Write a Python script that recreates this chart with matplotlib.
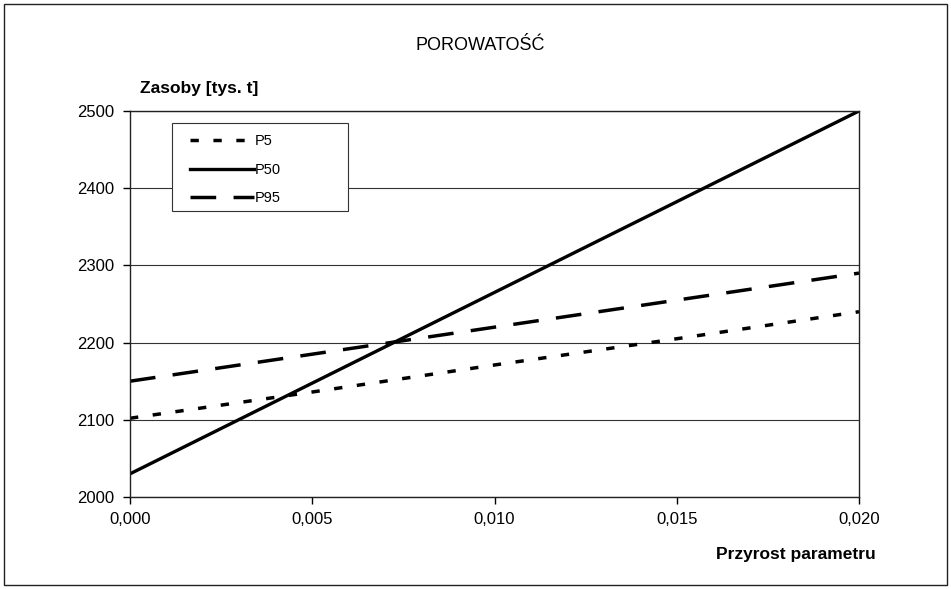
import matplotlib
matplotlib.use("Agg")
import matplotlib.pyplot as plt
from matplotlib.patches import Rectangle
from matplotlib.ticker import FuncFormatter

przyrost = [0.0, 0.005, 0.010, 0.015, 0.020]
p5 = [2102, 2136, 2171, 2205, 2240]
p50 = [2030, 2147.5, 2265, 2382.5, 2500]
p95 = [2150, 2185, 2220, 2255, 2290]

plt.rcParams["font.family"] = ["Liberation Sans", "DejaVu Sans"]

fig = plt.figure(figsize=(9.51, 5.89), dpi=100)
ax = fig.add_axes([130 / 951, 1 - 497 / 589, 729 / 951, 386 / 589])

# ramka wokol calego wykresu
fig.patches.append(Rectangle((4 / 951, 4 / 589), 943 / 951, 581 / 589,
                             transform=fig.transFigure, fill=False,
                             edgecolor="#222222", linewidth=1.0))

ax.plot(przyrost, p5, color="k", linestyle=(0, (2.4, 4.2)), linewidth=2.5,
        label="P5")
ax.plot(przyrost, p50, color="k", linestyle="solid", linewidth=2.4,
        label="P50")
ax.plot(przyrost, p95, color="k", linestyle=(0, (7.4, 5.0)), linewidth=2.5,
        label="P95")

ax.set_xlim(0, 0.02)
ax.set_ylim(2000, 2500)
ax.set_xticks(przyrost)
ax.set_yticks([2000, 2100, 2200, 2300, 2400, 2500])
ax.xaxis.set_major_formatter(FuncFormatter(lambda v, p: f"{v:.3f}".replace(".", ",")))
ax.tick_params(labelsize=12, length=5, width=1, direction="out", pad=6)
ax.grid(axis="y", color="#333333", linewidth=0.8)
for s in ax.spines.values():
    s.set_linewidth(1.0)
    s.set_color("#222222")

fig.text(480 / 951, 1 - 45 / 589, "POROWATOŚĆ", ha="center", va="center",
         fontsize=13)
fig.text(140 / 951, 1 - 88 / 589, "Zasoby [tys. t]", ha="left", va="center",
         fontsize=12.5, fontweight="bold")
fig.text(876 / 951, 1 - 555 / 589, "Przyrost parametru", ha="right",
         va="center", fontsize=12.5, fontweight="bold")

# ramka legendy rysowana osobno (szersza niz wpisy)
ax.add_patch(Rectangle((0.0576, 0.741), 0.2414, 0.228, transform=ax.transAxes,
                       facecolor="white", edgecolor="#333333", linewidth=0.8,
                       zorder=4))
leg = ax.legend(loc="upper left", bbox_to_anchor=(0.0823, 0.94), fontsize=10.5,
                frameon=False, handlelength=4.4, handletextpad=0.05,
                borderpad=0, labelspacing=1.0, borderaxespad=0)
leg.set_zorder(5)

plt.savefig("out.png", dpi=100)
